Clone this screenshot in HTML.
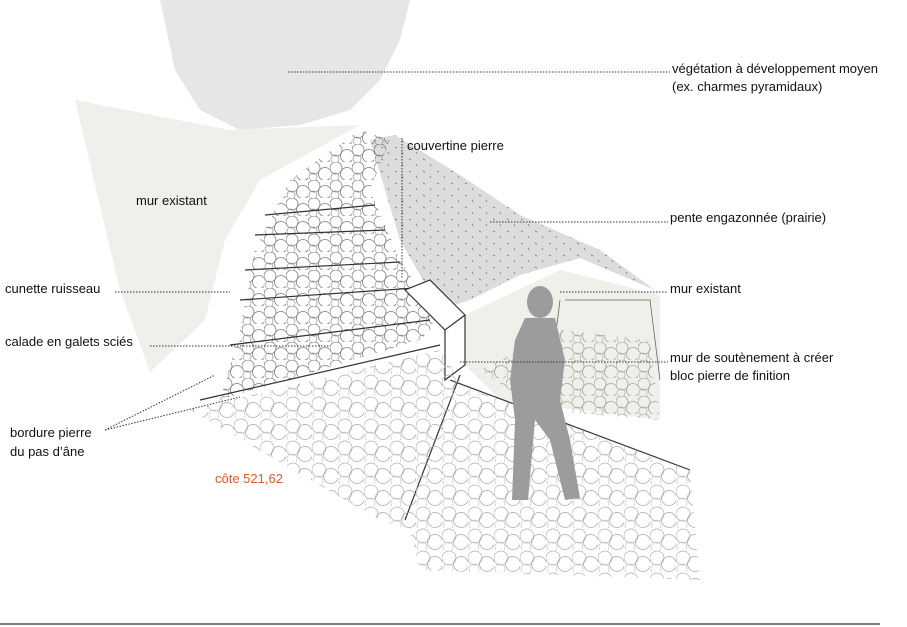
<!DOCTYPE html>
<html><head><meta charset="utf-8"><style>
html,body{margin:0;padding:0;background:#fff;}
svg{display:block}
text{font-family:"Liberation Sans",sans-serif;font-size:13px;fill:#111}
</style></head><body>
<svg width="907" height="627" viewBox="0 0 907 627" xmlns="http://www.w3.org/2000/svg">
<defs>
<pattern id="peb" width="22" height="18" patternUnits="userSpaceOnUse">
<circle cx="6" cy="6" r="6" fill="none" stroke="#444" stroke-width="0.8"/>
<circle cx="17" cy="12" r="6.5" fill="none" stroke="#444" stroke-width="0.8"/>
<circle cx="5" cy="15" r="4" fill="none" stroke="#666" stroke-width="0.7"/>
</pattern>
<pattern id="peb2" width="26" height="22" patternUnits="userSpaceOnUse">
<circle cx="7" cy="8" r="7" fill="none" stroke="#b0b0b0" stroke-width="0.7"/>
<circle cx="19" cy="14" r="7.5" fill="none" stroke="#a5a5a5" stroke-width="0.7"/>
<circle cx="6" cy="19" r="5" fill="none" stroke="#c0c0c0" stroke-width="0.6"/>
</pattern>
<pattern id="grass" width="14" height="12" patternUnits="userSpaceOnUse">
<rect width="14" height="12" fill="#dcdcdc"/>
<path d="M3 3 l2 1 M10 8 l1 2" stroke="#777" stroke-width="0.8"/>
</pattern>
</defs>
<path d="M160 0 L410 0 L400 40 L380 80 L350 110 L300 125 L240 130 L200 110 L175 70 Z" fill="#e6e6e6"/>
<path d="M75 100 L230 130 L360 125 L260 180 L225 240 L205 320 L150 372 L120 290 Z" fill="#efefeb"/>
<path d="M370 140 L395 135 L460 175 L520 215 L600 250 L655 290 L580 258 L520 275 L470 300 L440 310 L400 240 Z" fill="url(#grass)"/>
<path d="M465 315 L560 270 L660 295 L660 420 L500 400 L465 365 Z" fill="#f0efea"/>
<path d="M360 130 L390 140 L370 190 L400 260 L440 320 L420 340 L220 400 L240 330 L255 250 L290 180 Z" fill="url(#peb)" opacity="0.7"/>
<g stroke="#333" stroke-width="1.2" fill="none">
<path d="M265 215 L375 205"/><path d="M255 235 L385 230"/><path d="M245 270 L400 262"/><path d="M240 300 L415 288"/><path d="M230 345 L430 320"/><path d="M200 400 L440 345"/>
<path d="M405 290 L445 330 L465 315 L430 280 Z" fill="#fff"/>
<path d="M445 330 L445 380 L465 365 L465 315"/>
<path d="M460 375 L405 520"/>
<path d="M450 380 L690 470"/>
</g>
<path d="M190 410 L440 350 L460 380 L410 530 L380 520 Z" fill="url(#peb2)"/>
<path d="M410 530 L460 385 L690 470 L700 580 L420 570 Z" fill="url(#peb2)"/>
<path d="M480 370 L560 330 L650 340 L660 420 L540 410 Z" fill="url(#peb)" opacity="0.45"/>
<g stroke="#666" stroke-width="0.8" fill="none"><path d="M565 300 L650 300 L660 380"/><path d="M555 340 L560 300"/></g>
<g fill="#9c9c9c">
<ellipse cx="540" cy="302" rx="13" ry="16"/>
<path d="M525 318 L555 318 L565 360 L560 400 L570 440 L580 498 L565 500 L550 440 L535 420 L528 500 L512 500 L515 420 L510 380 L515 340 Z"/>
</g>
<g stroke="#333" stroke-width="1" stroke-dasharray="1.5 1.5" fill="none">
<path d="M288 72 L670 72"/>
<path d="M402 138 L402 278"/>
<path d="M490 222 L668 222"/>
<path d="M115 292 L230 292"/>
<path d="M560 292 L668 292"/>
<path d="M150 346 L330 346"/>
<path d="M460 362 L668 362"/>
<path d="M105 430 L215 375"/><path d="M105 430 L240 397"/>
</g>
<line x1="0" y1="624" x2="880" y2="624" stroke="#555" stroke-width="1.5"/>
<text x="672" y="73">végétation à développement moyen</text>
<text x="672" y="91">(ex. charmes pyramidaux)</text>
<text x="407" y="150">couvertine pierre</text>
<text x="136" y="205">mur existant</text>
<text x="670" y="222">pente engazonnée (prairie)</text>
<text x="5" y="293">cunette ruisseau</text>
<text x="670" y="293">mur existant</text>
<text x="5" y="346">calade en galets sciés</text>
<text x="670" y="362">mur de soutènement à créer</text>
<text x="670" y="380">bloc pierre de finition</text>
<text x="10" y="437">bordure pierre</text>
<text x="10" y="456">du pas d’âne</text>
<text x="215" y="483" style="fill:#e8572a">côte 521,62</text>
</svg>
</body></html>
